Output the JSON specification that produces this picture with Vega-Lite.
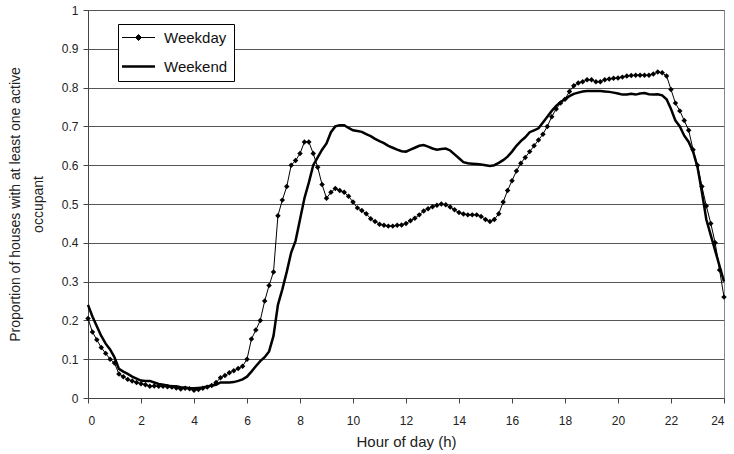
{
  "$schema": "https://vega.github.io/schema/vega-lite/v6.json",
  "width": 636,
  "height": 388,
  "autosize": {"type": "none"},
  "padding": {"left": 88, "top": 10, "right": 10, "bottom": 56},
  "background": "white",
  "config": {
    "view": {"stroke": "#888", "strokeWidth": 1},
    "font": "Liberation Sans",
    "axis": {
      "labelFont": "Liberation Sans",
      "titleFont": "Liberation Sans",
      "labelFontSize": 12,
      "titleFontWeight": "normal",
      "labelColor": "#222",
      "titleColor": "#222",
      "domainColor": "#444",
      "tickColor": "#444",
      "tickSize": 5
    }
  },
  "data": {"values": [
    {"h":0,"s":"Weekday","p":0.205},{"h":0.167,"s":"Weekday","p":0.17},{"h":0.333,"s":"Weekday","p":0.15},{"h":0.5,"s":"Weekday","p":0.13},{"h":0.667,"s":"Weekday","p":0.115},{"h":0.833,"s":"Weekday","p":0.1},
    {"h":1,"s":"Weekday","p":0.09},{"h":1.167,"s":"Weekday","p":0.062},{"h":1.333,"s":"Weekday","p":0.055},{"h":1.5,"s":"Weekday","p":0.048},{"h":1.667,"s":"Weekday","p":0.044},{"h":1.833,"s":"Weekday","p":0.04},
    {"h":2,"s":"Weekday","p":0.037},{"h":2.167,"s":"Weekday","p":0.034},{"h":2.333,"s":"Weekday","p":0.03},{"h":2.5,"s":"Weekday","p":0.031},{"h":2.667,"s":"Weekday","p":0.03},{"h":2.833,"s":"Weekday","p":0.03},
    {"h":3,"s":"Weekday","p":0.029},{"h":3.167,"s":"Weekday","p":0.028},{"h":3.333,"s":"Weekday","p":0.026},{"h":3.5,"s":"Weekday","p":0.023},{"h":3.667,"s":"Weekday","p":0.025},{"h":3.833,"s":"Weekday","p":0.024},
    {"h":4,"s":"Weekday","p":0.02},{"h":4.167,"s":"Weekday","p":0.022},{"h":4.333,"s":"Weekday","p":0.025},{"h":4.5,"s":"Weekday","p":0.028},{"h":4.667,"s":"Weekday","p":0.032},{"h":4.833,"s":"Weekday","p":0.04},
    {"h":5,"s":"Weekday","p":0.052},{"h":5.167,"s":"Weekday","p":0.058},{"h":5.333,"s":"Weekday","p":0.065},{"h":5.5,"s":"Weekday","p":0.07},{"h":5.667,"s":"Weekday","p":0.076},{"h":5.833,"s":"Weekday","p":0.082},
    {"h":6,"s":"Weekday","p":0.1},{"h":6.167,"s":"Weekday","p":0.152},{"h":6.333,"s":"Weekday","p":0.175},{"h":6.5,"s":"Weekday","p":0.2},{"h":6.667,"s":"Weekday","p":0.25},{"h":6.833,"s":"Weekday","p":0.29},
    {"h":7,"s":"Weekday","p":0.325},{"h":7.167,"s":"Weekday","p":0.47},{"h":7.333,"s":"Weekday","p":0.51},{"h":7.5,"s":"Weekday","p":0.545},{"h":7.667,"s":"Weekday","p":0.6},{"h":7.833,"s":"Weekday","p":0.612},
    {"h":8,"s":"Weekday","p":0.63},{"h":8.167,"s":"Weekday","p":0.66},{"h":8.333,"s":"Weekday","p":0.66},{"h":8.5,"s":"Weekday","p":0.63},{"h":8.667,"s":"Weekday","p":0.595},{"h":8.833,"s":"Weekday","p":0.55},
    {"h":9,"s":"Weekday","p":0.515},{"h":9.167,"s":"Weekday","p":0.53},{"h":9.333,"s":"Weekday","p":0.54},{"h":9.5,"s":"Weekday","p":0.535},{"h":9.667,"s":"Weekday","p":0.53},{"h":9.833,"s":"Weekday","p":0.52},
    {"h":10,"s":"Weekday","p":0.505},{"h":10.167,"s":"Weekday","p":0.49},{"h":10.333,"s":"Weekday","p":0.483},{"h":10.5,"s":"Weekday","p":0.475},{"h":10.667,"s":"Weekday","p":0.462},{"h":10.833,"s":"Weekday","p":0.455},
    {"h":11,"s":"Weekday","p":0.448},{"h":11.167,"s":"Weekday","p":0.445},{"h":11.333,"s":"Weekday","p":0.443},{"h":11.5,"s":"Weekday","p":0.443},{"h":11.667,"s":"Weekday","p":0.445},{"h":11.833,"s":"Weekday","p":0.446},
    {"h":12,"s":"Weekday","p":0.45},{"h":12.167,"s":"Weekday","p":0.457},{"h":12.333,"s":"Weekday","p":0.463},{"h":12.5,"s":"Weekday","p":0.472},{"h":12.667,"s":"Weekday","p":0.482},{"h":12.833,"s":"Weekday","p":0.488},
    {"h":13,"s":"Weekday","p":0.493},{"h":13.167,"s":"Weekday","p":0.497},{"h":13.333,"s":"Weekday","p":0.5},{"h":13.5,"s":"Weekday","p":0.498},{"h":13.667,"s":"Weekday","p":0.492},{"h":13.833,"s":"Weekday","p":0.485},
    {"h":14,"s":"Weekday","p":0.478},{"h":14.167,"s":"Weekday","p":0.474},{"h":14.333,"s":"Weekday","p":0.472},{"h":14.5,"s":"Weekday","p":0.472},{"h":14.667,"s":"Weekday","p":0.472},{"h":14.833,"s":"Weekday","p":0.468},
    {"h":15,"s":"Weekday","p":0.46},{"h":15.167,"s":"Weekday","p":0.455},{"h":15.333,"s":"Weekday","p":0.46},{"h":15.5,"s":"Weekday","p":0.475},{"h":15.667,"s":"Weekday","p":0.505},{"h":15.833,"s":"Weekday","p":0.535},
    {"h":16,"s":"Weekday","p":0.56},{"h":16.167,"s":"Weekday","p":0.585},{"h":16.333,"s":"Weekday","p":0.605},{"h":16.5,"s":"Weekday","p":0.62},{"h":16.667,"s":"Weekday","p":0.635},{"h":16.833,"s":"Weekday","p":0.65},
    {"h":17,"s":"Weekday","p":0.665},{"h":17.167,"s":"Weekday","p":0.68},{"h":17.333,"s":"Weekday","p":0.7},{"h":17.5,"s":"Weekday","p":0.725},{"h":17.667,"s":"Weekday","p":0.745},{"h":17.833,"s":"Weekday","p":0.76},
    {"h":18,"s":"Weekday","p":0.77},{"h":18.167,"s":"Weekday","p":0.79},{"h":18.333,"s":"Weekday","p":0.805},{"h":18.5,"s":"Weekday","p":0.812},{"h":18.667,"s":"Weekday","p":0.815},{"h":18.833,"s":"Weekday","p":0.82},
    {"h":19,"s":"Weekday","p":0.82},{"h":19.167,"s":"Weekday","p":0.815},{"h":19.333,"s":"Weekday","p":0.815},{"h":19.5,"s":"Weekday","p":0.82},{"h":19.667,"s":"Weekday","p":0.822},{"h":19.833,"s":"Weekday","p":0.824},
    {"h":20,"s":"Weekday","p":0.825},{"h":20.167,"s":"Weekday","p":0.827},{"h":20.333,"s":"Weekday","p":0.83},{"h":20.5,"s":"Weekday","p":0.831},{"h":20.667,"s":"Weekday","p":0.832},{"h":20.833,"s":"Weekday","p":0.832},
    {"h":21,"s":"Weekday","p":0.832},{"h":21.167,"s":"Weekday","p":0.832},{"h":21.333,"s":"Weekday","p":0.835},{"h":21.5,"s":"Weekday","p":0.84},{"h":21.667,"s":"Weekday","p":0.838},{"h":21.833,"s":"Weekday","p":0.83},
    {"h":22,"s":"Weekday","p":0.795},{"h":22.167,"s":"Weekday","p":0.76},{"h":22.333,"s":"Weekday","p":0.74},{"h":22.5,"s":"Weekday","p":0.715},{"h":22.667,"s":"Weekday","p":0.69},{"h":22.833,"s":"Weekday","p":0.64},
    {"h":23,"s":"Weekday","p":0.6},{"h":23.167,"s":"Weekday","p":0.545},{"h":23.333,"s":"Weekday","p":0.495},{"h":23.5,"s":"Weekday","p":0.45},{"h":23.667,"s":"Weekday","p":0.4},{"h":23.833,"s":"Weekday","p":0.33},
    {"h":24,"s":"Weekday","p":0.26},
    {"h":0,"s":"Weekend","p":0.24},{"h":0.167,"s":"Weekend","p":0.21},{"h":0.333,"s":"Weekend","p":0.185},{"h":0.5,"s":"Weekend","p":0.16},{"h":0.667,"s":"Weekend","p":0.14},{"h":0.833,"s":"Weekend","p":0.125},
    {"h":1,"s":"Weekend","p":0.105},{"h":1.167,"s":"Weekend","p":0.075},{"h":1.333,"s":"Weekend","p":0.068},{"h":1.5,"s":"Weekend","p":0.062},{"h":1.667,"s":"Weekend","p":0.055},{"h":1.833,"s":"Weekend","p":0.05},
    {"h":2,"s":"Weekend","p":0.045},{"h":2.167,"s":"Weekend","p":0.044},{"h":2.333,"s":"Weekend","p":0.044},{"h":2.5,"s":"Weekend","p":0.04},{"h":2.667,"s":"Weekend","p":0.036},{"h":2.833,"s":"Weekend","p":0.034},
    {"h":3,"s":"Weekend","p":0.032},{"h":3.167,"s":"Weekend","p":0.03},{"h":3.333,"s":"Weekend","p":0.03},{"h":3.5,"s":"Weekend","p":0.028},{"h":3.667,"s":"Weekend","p":0.027},{"h":3.833,"s":"Weekend","p":0.025},
    {"h":4,"s":"Weekend","p":0.025},{"h":4.167,"s":"Weekend","p":0.026},{"h":4.333,"s":"Weekend","p":0.027},{"h":4.5,"s":"Weekend","p":0.03},{"h":4.667,"s":"Weekend","p":0.032},{"h":4.833,"s":"Weekend","p":0.034},
    {"h":5,"s":"Weekend","p":0.04},{"h":5.167,"s":"Weekend","p":0.04},{"h":5.333,"s":"Weekend","p":0.04},{"h":5.5,"s":"Weekend","p":0.041},{"h":5.667,"s":"Weekend","p":0.044},{"h":5.833,"s":"Weekend","p":0.048},
    {"h":6,"s":"Weekend","p":0.055},{"h":6.167,"s":"Weekend","p":0.068},{"h":6.333,"s":"Weekend","p":0.082},{"h":6.5,"s":"Weekend","p":0.095},{"h":6.667,"s":"Weekend","p":0.105},{"h":6.833,"s":"Weekend","p":0.12},
    {"h":7,"s":"Weekend","p":0.16},{"h":7.167,"s":"Weekend","p":0.24},{"h":7.333,"s":"Weekend","p":0.28},{"h":7.5,"s":"Weekend","p":0.325},{"h":7.667,"s":"Weekend","p":0.375},{"h":7.833,"s":"Weekend","p":0.405},
    {"h":8,"s":"Weekend","p":0.46},{"h":8.167,"s":"Weekend","p":0.515},{"h":8.333,"s":"Weekend","p":0.555},{"h":8.5,"s":"Weekend","p":0.6},{"h":8.667,"s":"Weekend","p":0.62},{"h":8.833,"s":"Weekend","p":0.64},
    {"h":9,"s":"Weekend","p":0.656},{"h":9.167,"s":"Weekend","p":0.685},{"h":9.333,"s":"Weekend","p":0.7},{"h":9.5,"s":"Weekend","p":0.703},{"h":9.667,"s":"Weekend","p":0.703},{"h":9.833,"s":"Weekend","p":0.696},
    {"h":10,"s":"Weekend","p":0.69},{"h":10.167,"s":"Weekend","p":0.688},{"h":10.333,"s":"Weekend","p":0.686},{"h":10.5,"s":"Weekend","p":0.68},{"h":10.667,"s":"Weekend","p":0.675},{"h":10.833,"s":"Weekend","p":0.668},
    {"h":11,"s":"Weekend","p":0.662},{"h":11.167,"s":"Weekend","p":0.657},{"h":11.333,"s":"Weekend","p":0.65},{"h":11.5,"s":"Weekend","p":0.645},{"h":11.667,"s":"Weekend","p":0.64},{"h":11.833,"s":"Weekend","p":0.636},
    {"h":12,"s":"Weekend","p":0.635},{"h":12.167,"s":"Weekend","p":0.64},{"h":12.333,"s":"Weekend","p":0.645},{"h":12.5,"s":"Weekend","p":0.65},{"h":12.667,"s":"Weekend","p":0.652},{"h":12.833,"s":"Weekend","p":0.648},
    {"h":13,"s":"Weekend","p":0.643},{"h":13.167,"s":"Weekend","p":0.64},{"h":13.333,"s":"Weekend","p":0.642},{"h":13.5,"s":"Weekend","p":0.643},{"h":13.667,"s":"Weekend","p":0.638},{"h":13.833,"s":"Weekend","p":0.628},
    {"h":14,"s":"Weekend","p":0.618},{"h":14.167,"s":"Weekend","p":0.608},{"h":14.333,"s":"Weekend","p":0.605},{"h":14.5,"s":"Weekend","p":0.604},{"h":14.667,"s":"Weekend","p":0.603},{"h":14.833,"s":"Weekend","p":0.602},
    {"h":15,"s":"Weekend","p":0.6},{"h":15.167,"s":"Weekend","p":0.598},{"h":15.333,"s":"Weekend","p":0.6},{"h":15.5,"s":"Weekend","p":0.606},{"h":15.667,"s":"Weekend","p":0.613},{"h":15.833,"s":"Weekend","p":0.622},
    {"h":16,"s":"Weekend","p":0.635},{"h":16.167,"s":"Weekend","p":0.65},{"h":16.333,"s":"Weekend","p":0.662},{"h":16.5,"s":"Weekend","p":0.672},{"h":16.667,"s":"Weekend","p":0.685},{"h":16.833,"s":"Weekend","p":0.69},
    {"h":17,"s":"Weekend","p":0.695},{"h":17.167,"s":"Weekend","p":0.71},{"h":17.333,"s":"Weekend","p":0.725},{"h":17.5,"s":"Weekend","p":0.74},{"h":17.667,"s":"Weekend","p":0.753},{"h":17.833,"s":"Weekend","p":0.763},
    {"h":18,"s":"Weekend","p":0.77},{"h":18.167,"s":"Weekend","p":0.778},{"h":18.333,"s":"Weekend","p":0.784},{"h":18.5,"s":"Weekend","p":0.787},{"h":18.667,"s":"Weekend","p":0.79},{"h":18.833,"s":"Weekend","p":0.791},
    {"h":19,"s":"Weekend","p":0.791},{"h":19.167,"s":"Weekend","p":0.791},{"h":19.333,"s":"Weekend","p":0.791},{"h":19.5,"s":"Weekend","p":0.79},{"h":19.667,"s":"Weekend","p":0.789},{"h":19.833,"s":"Weekend","p":0.787},
    {"h":20,"s":"Weekend","p":0.785},{"h":20.167,"s":"Weekend","p":0.782},{"h":20.333,"s":"Weekend","p":0.782},{"h":20.5,"s":"Weekend","p":0.784},{"h":20.667,"s":"Weekend","p":0.782},{"h":20.833,"s":"Weekend","p":0.785},
    {"h":21,"s":"Weekend","p":0.786},{"h":21.167,"s":"Weekend","p":0.783},{"h":21.333,"s":"Weekend","p":0.782},{"h":21.5,"s":"Weekend","p":0.783},{"h":21.667,"s":"Weekend","p":0.78},{"h":21.833,"s":"Weekend","p":0.77},
    {"h":22,"s":"Weekend","p":0.745},{"h":22.167,"s":"Weekend","p":0.715},{"h":22.333,"s":"Weekend","p":0.7},{"h":22.5,"s":"Weekend","p":0.676},{"h":22.667,"s":"Weekend","p":0.66},{"h":22.833,"s":"Weekend","p":0.635},
    {"h":23,"s":"Weekend","p":0.595},{"h":23.167,"s":"Weekend","p":0.53},{"h":23.333,"s":"Weekend","p":0.46},{"h":23.5,"s":"Weekend","p":0.42},{"h":23.667,"s":"Weekend","p":0.38},{"h":23.833,"s":"Weekend","p":0.34},
    {"h":24,"s":"Weekend","p":0.3}
  ]},
  "encoding": {
    "x": {
      "field": "h", "type": "quantitative",
      "scale": {"domain": [0, 24], "nice": false},
      "axis": {"values": [0,2,4,6,8,10,12,14,16,18,20,22,24], "title": "Hour of day (h)", "titleFontSize": 15, "grid": false, "labelPadding": 12, "titlePadding": 8}
    },
    "y": {
      "field": "p", "type": "quantitative",
      "scale": {"domain": [0, 1], "nice": false},
      "axis": {"values": [0,0.1,0.2,0.3,0.4,0.5,0.6,0.7,0.8,0.9,1], "format": "~g", "grid": true, "gridColor": "#555", "gridWidth": 1, "title": ["Proportion of houses with at least one active", "occupant"], "titleFontSize": 14, "titleLineHeight": 23, "titlePadding": 16, "labelPadding": 5}
    }
  },
  "layer": [
    {
      "transform": [{"filter": "datum.s === 'Weekday'"}],
      "mark": {"type": "line", "strokeWidth": 1},
      "encoding": {
        "color": {
          "field": "s", "type": "nominal",
          "scale": {"domain": ["Weekday", "Weekend"], "range": ["black", "black"]},
          "legend": {
            "title": null, "orient": "none", "legendX": 30, "legendY": 14,
            "padding": 6, "strokeColor": "black", "fillColor": "white",
            "symbolSize": 400, "rowPadding": 13, "labelOffset": 18, "symbolOffset": 7,
            "labelFontSize": 15, "labelFont": "Liberation Sans", "labelColor": "#111",
            "labelExpr": "datum.label + '    '",
            "encode": {
              "symbols": {
                "update": {
                  "shape": {"signal": "datum.value === 'Weekday' ? 'M-1.65,0H1.65M0,-0.3L0.3,0L0,0.3L-0.3,0Z' : 'M-1.65,0H1.65'"},
                  "strokeWidth": {"signal": "datum.value === 'Weekday' ? 1 : 2.5"},
                  "fill": {"value": "black"},
                  "stroke": {"value": "black"},
                  "opacity": {"value": 1}
                }
              }
            }
          }
        }
      }
    },
    {
      "transform": [{"filter": "datum.s === 'Weekday'"}],
      "mark": {"type": "point", "shape": "diamond", "filled": true, "size": 30, "color": "black", "opacity": 1}
    },
    {
      "transform": [{"filter": "datum.s === 'Weekend'"}],
      "mark": {"type": "line", "strokeWidth": 2.5},
      "encoding": {
        "color": {"field": "s", "type": "nominal"}
      }
    }
  ]
}
